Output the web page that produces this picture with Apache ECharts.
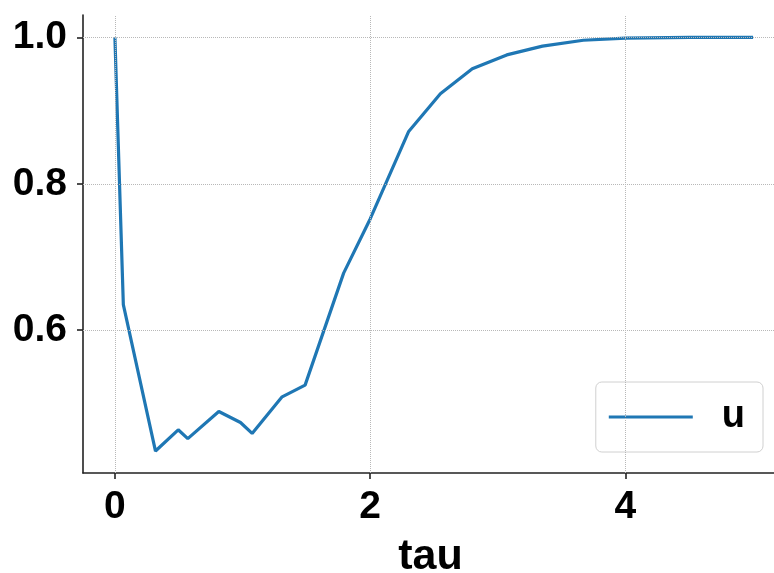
<!DOCTYPE html>
<html>
<head>
<meta charset="utf-8">
<script src="https://cdn.jsdelivr.net/npm/echarts@6/dist/echarts.min.js"></script>
<style>
  html, body { margin: 0; padding: 0; background: #fff; }
  #chart { width: 774px; height: 573px; }
</style>
</head>
<body>
<div id="chart"></div>
<script>
// Solution u(tau)
const tau = [0, 0.066, 0.318, 0.496, 0.571, 0.814, 0.984, 1.075, 1.31, 1.49, 1.792, 2.0, 2.3, 2.55, 2.8, 3.07, 3.35, 3.67, 4.0, 4.5, 5.0];
const u   = [1.0, 0.635, 0.435, 0.464, 0.452, 0.489, 0.474, 0.459, 0.509, 0.525, 0.678, 0.752, 0.871, 0.923, 0.957, 0.976, 0.988, 0.996, 0.999, 1.0, 1.0];

// Tick positions
const xTicks = [0, 2, 4];
const yTicks = [0.6, 0.8, 1.0];

const FONT = 'Liberation Sans';
const gridColor = '#b8b8b8';

const chart = echarts.init(document.getElementById('chart'), null, { renderer: 'canvas' });

const gridLines = [
  ...xTicks.map(v => ({ xAxis: v })),
  ...yTicks.map(v => ({ yAxis: v }))
];

chart.setOption({
  animation: false,
  backgroundColor: '#fff',
  grid: { left: 83, right: -11, top: 15, bottom: 100, containLabel: false, outerBoundsMode: 'none' },
  xAxis: {
    type: 'value',
    min: -0.25,
    max: 5.25,
    name: 'tau',
    nameLocation: 'middle',
    nameGap: 63,
    nameTextStyle: { fontFamily: FONT, fontWeight: 'bold', fontSize: 43, color: '#000', padding: [0, 7, 0, 0] },
    axisLine: { show: true, onZero: false, lineStyle: { color: '#222', width: 1.6 } },
    axisTick: { show: true, length: 6, customValues: xTicks, lineStyle: { color: '#222', width: 1.6 } },
    axisLabel: {
      customValues: xTicks,
      margin: 15,
      fontFamily: FONT, fontWeight: 'bold', fontSize: 39, color: '#000',
      formatter: v => String(v)
    },
    splitLine: { show: false }
  },
  yAxis: {
    type: 'value',
    min: 0.405,
    max: 1.0305,
    axisLine: { show: true, onZero: false, lineStyle: { color: '#222', width: 1.6 } },
    axisTick: { show: true, length: 6, customValues: yTicks, lineStyle: { color: '#222', width: 1.6 } },
    axisLabel: {
      customValues: yTicks,
      margin: 16,
      fontFamily: FONT, fontWeight: 'bold', fontSize: 39, color: '#000',
      formatter: v => v.toFixed(1)
    },
    splitLine: { show: false }
  },
  legend: {
    data: [{ name: 'u', icon: 'rect' }],
    right: 11,
    bottom: 121,
    orient: 'vertical',
    itemWidth: 84,
    itemHeight: 3,
    padding: [16, 18, 16, 13],
    backgroundColor: 'rgba(255,255,255,0.8)',
    borderColor: '#d0d0d0',
    borderWidth: 1,
    borderRadius: 6,
    textStyle: { fontFamily: FONT, fontWeight: 'bold', fontSize: 38, color: '#000', padding: [0, 0, 0, 24] }
  },
  series: [
    {
      name: 'grid',
      type: 'line',
      data: [],
      z: 1,
      silent: true,
      markLine: {
        silent: true,
        symbol: 'none',
        label: { show: false },
        lineStyle: { type: 'dotted', color: gridColor, width: 1 },
        data: gridLines
      }
    },
    {
      name: 'u',
      type: 'line',
      z: 3,
      data: tau.map((t, i) => [t, u[i]]),
      symbol: 'none',
      lineStyle: { color: '#1f77b4', width: 3.2 },
      itemStyle: { color: '#1f77b4' }
    }
  ]
});
</script>
</body>
</html>
